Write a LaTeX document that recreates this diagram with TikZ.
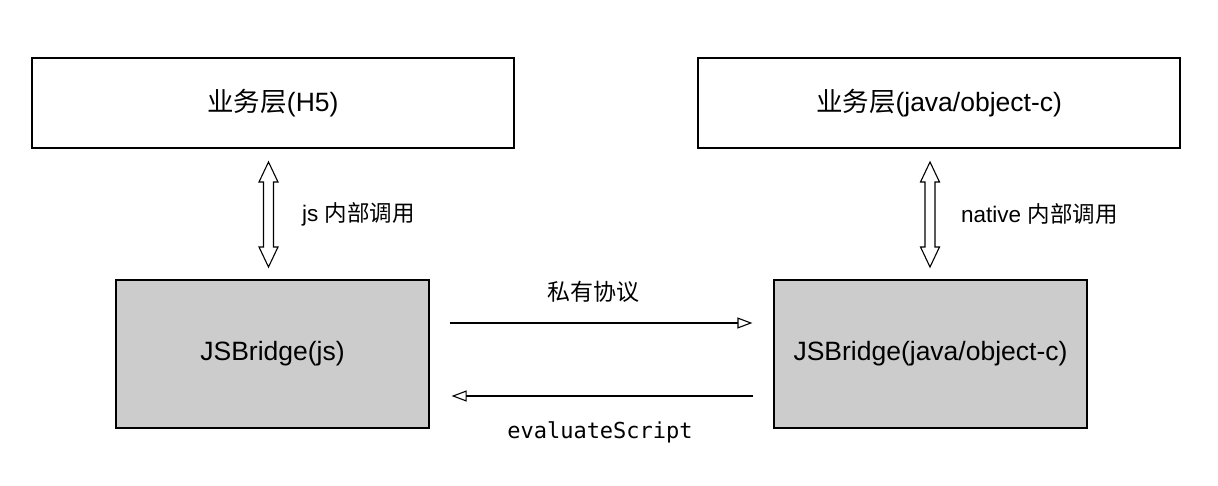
\documentclass[tikz,border=0pt]{standalone}
\usepackage{fontspec}
\setmainfont{Liberation Sans}
\setmonofont{DejaVu Sans Mono}
\newfontfamily\cjk{Noto Sans CJK SC}
\usetikzlibrary{arrows.meta,calc}
\begin{document}
\begin{tikzpicture}[x=1pt,y=-1pt,
  box/.style={draw,line width=1.2pt,inner sep=0pt,font=\fontsize{26.5}{30}\selectfont},
  gbox/.style={box,fill=black!20},
  harr/.style={line width=1.1pt,-{Triangle[open,length=15pt,width=11pt,line width=1.1pt]}},
  dbl/.style={draw,line width=1.1pt,line join=miter,fill=white},
  lab/.style={font=\fontsize{22.5}{26}\selectfont,inner sep=0pt}]
\path[use as bounding box] (0,0) rectangle (1218,486);
\node[box,minimum width=482pt,minimum height=90pt] (h5) at (273,103) {{\cjk 业务层}(H5)};
\node[box,minimum width=482pt,minimum height=90pt] (nat) at (939,103) {{\cjk 业务层}(java/object-c)};
\node[gbox,minimum width=313pt,minimum height=148pt] (jsl) at (272.5,354) {JSBridge(js)};
\node[gbox,minimum width=313pt,minimum height=148pt] (jsr) at (930.5,354) {JSBridge(java/object-c)};
% double arrows
\foreach \x/\n in {268.5/a,930/b}{
  \path[dbl] (\x,162) -- (\x+9.5,182) -- (\x+5,182) -- (\x+5,247) -- (\x+9.5,247)
    -- (\x,267) -- (\x-9.5,247) -- (\x-5,247) -- (\x-5,182) -- (\x-9.5,182) -- cycle;
}
\node[lab,anchor=west] (l1) at (302,214) {js {\cjk 内部调用}};
\node[lab,anchor=west] (l2) at (961,214) {native {\cjk 内部调用}};
% horizontal arrows
\draw[harr] ([xshift=20pt,yshift=31pt]jsl.east) -- ([xshift=-21pt,yshift=31pt]jsr.west);
\draw[harr] ([xshift=-20pt,yshift=-42pt]jsr.west) -- ([xshift=22pt,yshift=-42pt]jsl.east);
\node[lab,font=\cjk\fontsize{23}{26}\selectfont] (t1) at (593,292) {私有协议};
\node[lab,font=\ttfamily\fontsize{22}{26}\selectfont] (t2) at (600,432) {evaluateScript};
\end{tikzpicture}
\end{document}
